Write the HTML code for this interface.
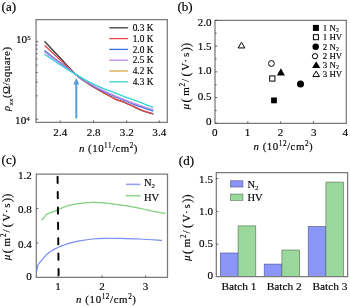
<!DOCTYPE html>
<html><head><meta charset="utf-8"><style>
html,body{margin:0;padding:0;background:#fff;}
svg{display:block;}
text{font-family:"Liberation Serif",serif;fill:#000;stroke:#000;stroke-width:0.15px;}
#w{will-change:transform;width:350px;height:306px;}
</style></head><body>
<div id="w"><svg width="350" height="306" viewBox="0 0 350 306">
<text x="1.6" y="10.9" font-size="13" style="stroke-width:0.2px">(a)</text>
<path d="M36.05 19.6H167.3V122.4H36.05Z" fill="none" stroke="#7a7a7a" stroke-width="1.25"/>
<path d="M36.05 119.20h2.2 M36.05 95.87h1.6 M36.05 82.22h1.6 M36.05 72.54h1.6 M36.05 65.03h1.6 M36.05 58.89h1.6 M36.05 53.70h1.6 M36.05 49.21h1.6 M36.05 45.25h1.6 M36.05 41.70h2.2 M60.2 122.4v-2 M93.6 122.4v-2 M126.7 122.4v-2 M159.3 122.4v-2" stroke="#3c3c3c" stroke-width="0.8" fill="none"/>
<text x="16.0" y="42.8" font-size="11.2">10<tspan font-size="7.0" dy="-2.4">5</tspan></text>
<text x="15.1" y="123.7" font-size="11.2">10<tspan font-size="7.0" dy="-2.4">4</tspan></text>
<text transform="translate(60.3 135.6) scale(1.08 1)" font-size="10.3" text-anchor="middle">2.4</text>
<text transform="translate(93.6 135.6) scale(1.08 1)" font-size="10.3" text-anchor="middle">2.8</text>
<text transform="translate(126.8 135.6) scale(1.08 1)" font-size="10.3" text-anchor="middle">3.2</text>
<text transform="translate(159.3 135.6) scale(1.08 1)" font-size="10.3" text-anchor="middle">3.4</text>
<text x="78.9" y="151.5" font-size="10.9" textLength="58.6" lengthAdjust="spacing"><tspan font-style="italic">n</tspan> (10<tspan font-size="7.2" dy="-3.9">11</tspan><tspan dy="3.9">/cm</tspan><tspan font-size="7.2" dy="-3.9">2</tspan><tspan dy="3.9">)</tspan></text>
<text transform="translate(10.0 111.0) rotate(-90)" font-size="10.8" textLength="64.0" lengthAdjust="spacing"><tspan font-style="italic">ρ</tspan><tspan font-size="7" dy="2.7" font-style="italic">xx</tspan><tspan dy="-2.7">(Ω/square)</tspan></text>
<line x1="109.3" x2="127.9" y1="27.8" y2="27.8" stroke="#3a3a3a" stroke-width="1.3"/>
<text x="132.7" y="31.0" font-size="9.35">0.3 K</text>
<line x1="109.3" x2="127.9" y1="38.6" y2="38.6" stroke="#e8474c" stroke-width="1.3"/>
<text x="132.7" y="41.8" font-size="9.35">1.0 K</text>
<line x1="109.3" x2="127.9" y1="49.4" y2="49.4" stroke="#3b6fe0" stroke-width="1.3"/>
<text x="132.7" y="52.6" font-size="9.35">2.0 K</text>
<line x1="109.3" x2="127.9" y1="60.2" y2="60.2" stroke="#c08ae8" stroke-width="1.3"/>
<text x="132.7" y="63.4" font-size="9.35">2.5 K</text>
<line x1="109.3" x2="127.9" y1="71.0" y2="71.0" stroke="#d8a73c" stroke-width="1.3"/>
<text x="132.7" y="74.2" font-size="9.35">4.2 K</text>
<line x1="109.3" x2="127.9" y1="81.8" y2="81.8" stroke="#33d3d3" stroke-width="1.3"/>
<text x="132.7" y="85.0" font-size="9.35">4.3 K</text>
<path d="M44.50 41.30 C47.08 44.05 54.78 52.28 60.00 57.80 C65.22 63.32 71.13 70.12 75.80 74.40 C80.47 78.68 83.97 80.77 88.00 83.50 C92.03 86.23 95.50 88.25 100.00 90.80 C104.50 93.35 110.83 96.83 115.00 98.80 C119.17 100.77 121.67 101.18 125.00 102.60 C128.33 104.02 132.00 105.93 135.00 107.30 C138.00 108.67 139.95 109.70 143.00 110.80 C146.05 111.90 151.58 113.38 153.30 113.90" fill="none" stroke="#3a3a3a" stroke-width="1.3" stroke-linejoin="round"/>
<path d="M44.50 45.20 C47.08 47.63 54.78 54.93 60.00 59.80 C65.22 64.67 71.13 70.45 75.80 74.40 C80.47 78.35 83.97 80.77 88.00 83.50 C92.03 86.23 95.50 88.25 100.00 90.80 C104.50 93.35 110.83 96.85 115.00 98.80 C119.17 100.75 121.67 101.12 125.00 102.50 C128.33 103.88 132.00 105.75 135.00 107.10 C138.00 108.45 139.95 109.50 143.00 110.60 C146.05 111.70 151.58 113.18 153.30 113.70" fill="none" stroke="#e8474c" stroke-width="1.3" stroke-linejoin="round"/>
<path d="M44.50 50.60 C47.08 52.58 54.78 58.53 60.00 62.50 C65.22 66.47 71.13 71.02 75.80 74.40 C80.47 77.78 83.97 80.25 88.00 82.80 C92.03 85.35 95.50 87.40 100.00 89.70 C104.50 92.00 110.83 94.77 115.00 96.60 C119.17 98.43 121.67 99.33 125.00 100.70 C128.33 102.07 131.67 103.53 135.00 104.80 C138.33 106.07 141.95 107.25 145.00 108.30 C148.05 109.35 151.92 110.63 153.30 111.10" fill="none" stroke="#3b6fe0" stroke-width="1.3" stroke-linejoin="round"/>
<path d="M44.50 51.70 C47.08 53.65 54.78 59.62 60.00 63.40 C65.22 67.18 71.13 71.22 75.80 74.40 C80.47 77.58 83.97 80.03 88.00 82.50 C92.03 84.97 95.50 86.98 100.00 89.20 C104.50 91.42 110.83 94.03 115.00 95.80 C119.17 97.57 121.67 98.50 125.00 99.80 C128.33 101.10 131.67 102.40 135.00 103.60 C138.33 104.80 141.95 105.98 145.00 107.00 C148.05 108.02 151.92 109.25 153.30 109.70" fill="none" stroke="#c08ae8" stroke-width="1.3" stroke-linejoin="round"/>
<path d="M44.50 54.20 C47.08 55.93 54.78 61.23 60.00 64.60 C65.22 67.97 71.13 71.60 75.80 74.40 C80.47 77.20 83.97 79.28 88.00 81.40 C92.03 83.52 95.50 85.18 100.00 87.10 C104.50 89.02 110.83 91.28 115.00 92.90 C119.17 94.52 121.67 95.55 125.00 96.80 C128.33 98.05 131.67 99.15 135.00 100.40 C138.33 101.65 141.95 103.15 145.00 104.30 C148.05 105.45 151.92 106.80 153.30 107.30" fill="none" stroke="#33d3d3" stroke-width="1.3" stroke-linejoin="round"/>
<line x1="76.3" x2="76.3" y1="118.4" y2="83" stroke="#5a9bd8" stroke-width="2"/>
<path d="M76.3 78 L79.3 84.4 L73.3 84.4Z" fill="#5a9bd8"/>
<text x="177.4" y="10.9" font-size="13" style="stroke-width:0.2px">(b)</text>
<path d="M215.0 20.4H346.3V123.3H215.0Z" fill="none" stroke="#7a7a7a" stroke-width="1.25"/>
<path d="M215.0 123.30h2.2 M215.0 110.44h1.6 M215.0 97.57h2.2 M215.0 84.71h1.6 M215.0 71.85h2.2 M215.0 58.99h1.6 M215.0 46.12h2.2 M215.0 33.26h1.6 M215.0 20.40h2.2 M247.82 123.3v-2 M280.65 123.3v-2 M313.48 123.3v-2" stroke="#3c3c3c" stroke-width="0.8" fill="none"/>
<text transform="translate(211.6 26.2) scale(1.08 1)" font-size="10.3" text-anchor="end">2.0</text>
<text transform="translate(211.6 49.6) scale(1.08 1)" font-size="10.3" text-anchor="end">1.5</text>
<text transform="translate(211.6 74.4) scale(1.08 1)" font-size="10.3" text-anchor="end">1.0</text>
<text transform="translate(211.6 99.8) scale(1.08 1)" font-size="10.3" text-anchor="end">0.5</text>
<text transform="translate(211.6 124.5) scale(1.08 1)" font-size="10.3" text-anchor="end">0</text>
<text transform="translate(214.8 135.7) scale(1.08 1)" font-size="10.3" text-anchor="middle">0</text>
<text transform="translate(247.5 135.7) scale(1.08 1)" font-size="10.3" text-anchor="middle">1</text>
<text transform="translate(280.6 135.7) scale(1.08 1)" font-size="10.3" text-anchor="middle">2</text>
<text transform="translate(313.7 135.7) scale(1.08 1)" font-size="10.3" text-anchor="middle">3</text>
<text transform="translate(345.2 135.7) scale(1.08 1)" font-size="10.3" text-anchor="middle">4</text>
<text x="253.4" y="150.1" font-size="10.9" textLength="59.3" lengthAdjust="spacing"><tspan font-style="italic">n</tspan> (10<tspan font-size="7.2" dy="-3.9">12</tspan><tspan dy="3.9">/cm</tspan><tspan font-size="7.2" dy="-3.9">2</tspan><tspan dy="3.9">)</tspan></text>
<text transform="translate(189.2 110.2) rotate(-90)" font-size="11"><tspan x="0.7" y="0" font-style="italic">μ</tspan><tspan x="7.7" y="0.6" font-size="12.4">(</tspan><tspan x="14.5" y="0">m</tspan><tspan x="23.8" y="-4.0" font-size="7.2">2</tspan><tspan x="28.3" y="0">/</tspan><tspan x="33.7" y="0.6" font-size="12.4">(</tspan><tspan x="39.4" y="0">V</tspan><tspan x="47.8" y="0">·</tspan><tspan x="53.2" y="0">s</tspan><tspan x="59.0" y="0.6" font-size="12.4">)</tspan><tspan x="63.1" y="0.6" font-size="12.4">)</tspan></text>
<rect x="271.10" y="97.50" width="5.8" height="5.8" fill="#000"/>
<rect x="269.70" y="75.90" width="5.2" height="5.2" fill="none" stroke="#000" stroke-width="1"/>
<circle cx="300.5" cy="83.9" r="3.5" fill="#000"/>
<circle cx="271.4" cy="63.5" r="2.9" fill="none" stroke="#000" stroke-width="1"/>
<path d="M280.9 68.20L284.90 75.60L276.90 75.60Z" fill="#000"/>
<path d="M241.5 42.25L244.85 47.95L238.15 47.95Z" fill="none" stroke="#000" stroke-width="1" stroke-linejoin="miter"/>
<rect x="312.90" y="24.90" width="6.0" height="6.0" fill="#000"/>
<rect x="313.40" y="34.70" width="5.0" height="5.0" fill="none" stroke="#000" stroke-width="1"/>
<circle cx="315.7" cy="46.8" r="3.25" fill="#000"/>
<circle cx="315.0" cy="56.2" r="2.65" fill="none" stroke="#000" stroke-width="1"/>
<path d="M316.2 61.30L320.30 68.10L312.10 68.10Z" fill="#000"/>
<path d="M316.2 71.05L319.50 76.55L312.90 76.55Z" fill="none" stroke="#000" stroke-width="1" stroke-linejoin="miter"/>
<text x="322.8" y="30.6" font-size="8.9">1 N<tspan font-size="5.9" dy="1.8">2</tspan></text>
<text x="322.8" y="40.3" font-size="8.9">1 HV</text>
<text x="322.8" y="49.6" font-size="8.9">2 N<tspan font-size="5.9" dy="1.8">2</tspan></text>
<text x="322.8" y="58.8" font-size="8.9">2 HV</text>
<text x="322.8" y="67.5" font-size="8.9">3 N<tspan font-size="5.9" dy="1.8">2</tspan></text>
<text x="322.8" y="76.5" font-size="8.9">3 HV</text>
<text x="1.6" y="164.2" font-size="13" style="stroke-width:0.2px">(c)</text>
<path d="M36.3 174.0H167.5V277.4H36.3Z" fill="none" stroke="#7a7a7a" stroke-width="1.25"/>
<path d="M36.3 242.93h2 M36.3 208.47h2 M58.0 277.4v-2 M102.0 277.4v-2 M145.7 277.4v-2" stroke="#3c3c3c" stroke-width="0.8" fill="none"/>
<text transform="translate(31.8 179.3) scale(1.08 1)" font-size="10.3" text-anchor="end">1.2</text>
<text transform="translate(31.8 212.6) scale(1.08 1)" font-size="10.3" text-anchor="end">0.8</text>
<text transform="translate(31.8 248.2) scale(1.08 1)" font-size="10.3" text-anchor="end">0.4</text>
<text transform="translate(31.8 280.2) scale(1.08 1)" font-size="10.3" text-anchor="end">0</text>
<text transform="translate(58.1 289.6) scale(1.08 1)" font-size="10.3" text-anchor="middle">1</text>
<text transform="translate(102 289.6) scale(1.08 1)" font-size="10.3" text-anchor="middle">2</text>
<text transform="translate(145.6 289.6) scale(1.08 1)" font-size="10.3" text-anchor="middle">3</text>
<text x="76.0" y="302.6" font-size="10.9" textLength="60.0" lengthAdjust="spacing"><tspan font-style="italic">n</tspan> (10<tspan font-size="7.2" dy="-3.9">12</tspan><tspan dy="3.9">/cm</tspan><tspan font-size="7.2" dy="-3.9">2</tspan><tspan dy="3.9">)</tspan></text>
<text transform="translate(10.3 260.9) rotate(-90)" font-size="11"><tspan x="0.7" y="0" font-style="italic">μ</tspan><tspan x="7.7" y="0.6" font-size="12.4">(</tspan><tspan x="14.5" y="0">m</tspan><tspan x="23.8" y="-4.0" font-size="7.2">2</tspan><tspan x="28.3" y="0">/</tspan><tspan x="33.7" y="0.6" font-size="12.4">(</tspan><tspan x="39.4" y="0">V</tspan><tspan x="47.8" y="0">·</tspan><tspan x="53.2" y="0">s</tspan><tspan x="59.0" y="0.6" font-size="12.4">)</tspan><tspan x="63.1" y="0.6" font-size="12.4">)</tspan></text>
<path d="M41.30 220.10 C41.70 219.75 42.90 218.90 43.70 218.00 C44.50 217.10 45.38 215.43 46.10 214.70 C46.82 213.97 46.97 214.03 48.00 213.60 C49.03 213.17 50.73 212.68 52.30 212.10 C53.87 211.52 55.83 210.77 57.40 210.10 C58.97 209.43 60.27 208.72 61.70 208.10 C63.13 207.48 64.62 206.88 66.00 206.40 C67.38 205.92 68.00 205.67 70.00 205.20 C72.00 204.73 75.50 204.00 78.00 203.60 C80.50 203.20 82.62 203.00 85.00 202.80 C87.38 202.60 89.80 202.43 92.30 202.40 C94.80 202.37 97.72 202.48 100.00 202.60 C102.28 202.72 103.83 202.88 106.00 203.10 C108.17 203.32 110.67 203.60 113.00 203.90 C115.33 204.20 117.67 204.57 120.00 204.90 C122.33 205.23 124.50 205.50 127.00 205.90 C129.50 206.30 132.33 206.78 135.00 207.30 C137.67 207.82 140.33 208.42 143.00 209.00 C145.67 209.58 148.50 210.27 151.00 210.80 C153.50 211.33 155.55 211.77 158.00 212.20 C160.45 212.63 164.42 213.20 165.70 213.40" fill="none" stroke="#7fcf7f" stroke-width="1.2" stroke-linejoin="round"/>
<path d="M36.60 272.00 C36.72 271.33 37.03 269.23 37.30 268.00 C37.57 266.77 37.75 265.57 38.20 264.60 C38.65 263.63 39.37 263.00 40.00 262.20 C40.63 261.40 41.33 260.60 42.00 259.80 C42.67 259.00 43.27 258.22 44.00 257.40 C44.73 256.58 45.57 255.70 46.40 254.90 C47.23 254.10 48.05 253.32 49.00 252.60 C49.95 251.88 51.02 251.27 52.10 250.60 C53.18 249.93 54.35 249.20 55.50 248.60 C56.65 248.00 57.82 247.50 59.00 247.00 C60.18 246.50 60.93 246.22 62.60 245.60 C64.27 244.98 66.43 244.05 69.00 243.30 C71.57 242.55 74.12 241.82 78.00 241.10 C81.88 240.38 87.82 239.47 92.30 239.00 C96.78 238.53 100.28 238.40 104.90 238.30 C109.52 238.20 114.15 238.28 120.00 238.40 C125.85 238.52 133.00 238.68 140.00 239.00 C147.00 239.32 158.33 240.08 162.00 240.30" fill="none" stroke="#7a8cf4" stroke-width="1.2" stroke-linejoin="round"/>
<line x1="57.57" x2="57.64" y1="176.70" y2="182.90" stroke="#000" stroke-width="1.95" stroke-linecap="round"/>
<line x1="57.73" x2="57.80" y1="192.07" y2="198.27" stroke="#000" stroke-width="1.95" stroke-linecap="round"/>
<line x1="57.90" x2="57.97" y1="207.44" y2="213.64" stroke="#000" stroke-width="1.95" stroke-linecap="round"/>
<line x1="58.07" x2="58.13" y1="222.81" y2="229.01" stroke="#000" stroke-width="1.95" stroke-linecap="round"/>
<line x1="58.23" x2="58.30" y1="238.18" y2="244.38" stroke="#000" stroke-width="1.95" stroke-linecap="round"/>
<line x1="58.40" x2="58.46" y1="253.55" y2="259.75" stroke="#000" stroke-width="1.95" stroke-linecap="round"/>
<line x1="58.56" x2="58.63" y1="268.92" y2="275.12" stroke="#000" stroke-width="1.95" stroke-linecap="round"/>
<line x1="125.9" x2="140.5" y1="184.4" y2="184.4" stroke="#93a2f6" stroke-width="1.6"/>
<line x1="125.9" x2="140.5" y1="195.7" y2="195.7" stroke="#92d692" stroke-width="1.6"/>
<text x="143.9" y="186.3" font-size="10.5">N<tspan font-size="7" dy="2">2</tspan></text>
<text x="143.9" y="200.6" font-size="10.5">HV</text>
<text x="178.8" y="165.3" font-size="13" style="stroke-width:0.2px">(d)</text>
<rect x="220.3" y="253.0" width="17.80" height="23.60" fill="#8c96f8" stroke="#4a5290" stroke-width="0.6"/>
<rect x="238.1" y="225.9" width="17.70" height="50.70" fill="#9bd89b" stroke="#4d704d" stroke-width="0.6"/>
<rect x="264.2" y="264.1" width="17.70" height="12.50" fill="#8c96f8" stroke="#4a5290" stroke-width="0.6"/>
<rect x="281.9" y="250" width="17.80" height="26.60" fill="#9bd89b" stroke="#4d704d" stroke-width="0.6"/>
<rect x="308.2" y="226.5" width="17.70" height="50.10" fill="#8c96f8" stroke="#4a5290" stroke-width="0.6"/>
<rect x="325.9" y="182.1" width="17.60" height="94.50" fill="#9bd89b" stroke="#4d704d" stroke-width="0.6"/>
<path d="M216.3 172.5H347.6V276.6H216.3Z" fill="none" stroke="#7a7a7a" stroke-width="1.25"/>
<path d="M216.3 244.20h2 M216.3 211.40h2 M216.3 178.60h2" stroke="#3c3c3c" stroke-width="0.8" fill="none"/>
<text transform="translate(213 183) scale(1.08 1)" font-size="10.3" text-anchor="end">1.5</text>
<text transform="translate(213 214.6) scale(1.08 1)" font-size="10.3" text-anchor="end">1.0</text>
<text transform="translate(213 247.0) scale(1.08 1)" font-size="10.3" text-anchor="end">0.5</text>
<text transform="translate(213 279.2) scale(1.08 1)" font-size="10.3" text-anchor="end">0</text>
<rect x="230.6" y="180.8" width="12.3" height="6.2" fill="#8c96f8" stroke="#4a5290" stroke-width="0.6"/>
<rect x="230.6" y="194.1" width="12.3" height="6.2" fill="#9bd89b" stroke="#4d704d" stroke-width="0.6"/>
<text x="247.4" y="187.8" font-size="10.5">N<tspan font-size="7" dy="2">2</tspan></text>
<text x="247.4" y="201" font-size="10.5">HV</text>
<text x="239" y="289.5" font-size="11.4" text-anchor="middle">Batch 1</text>
<text x="284.2" y="289.5" font-size="11.4" text-anchor="middle">Batch 2</text>
<text x="330" y="289.5" font-size="11.4" text-anchor="middle">Batch 3</text>
<text transform="translate(190.1 261.7) rotate(-90)" font-size="11"><tspan x="0.7" y="0" font-style="italic">μ</tspan><tspan x="7.7" y="0.6" font-size="12.4">(</tspan><tspan x="14.5" y="0">m</tspan><tspan x="23.8" y="-4.0" font-size="7.2">2</tspan><tspan x="28.3" y="0">/</tspan><tspan x="33.7" y="0.6" font-size="12.4">(</tspan><tspan x="39.4" y="0">V</tspan><tspan x="47.8" y="0">·</tspan><tspan x="53.2" y="0">s</tspan><tspan x="59.0" y="0.6" font-size="12.4">)</tspan><tspan x="63.1" y="0.6" font-size="12.4">)</tspan></text>
</svg></div>
</body></html>
